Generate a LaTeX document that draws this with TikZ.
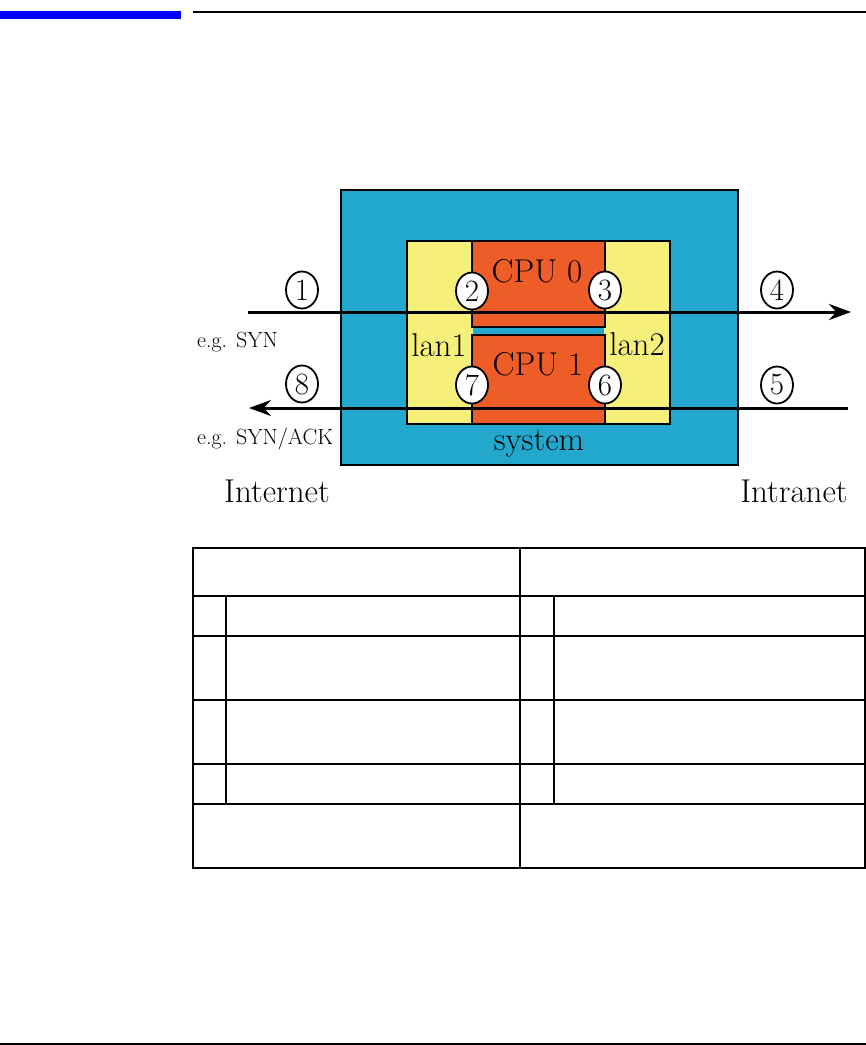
\documentclass[tikz,border=0pt]{standalone}
\usepackage{fontspec}
\usetikzlibrary{arrows.meta,shapes.geometric}
\definecolor{sysblue}{RGB}{34,168,204}
\definecolor{lanyellow}{RGB}{246,240,122}
\definecolor{cpuorange}{RGB}{238,92,40}
\definecolor{barblue}{RGB}{0,0,255}
\tikzset{
  box/.style={draw=black,line width=1.6pt},
  lbl/.style={inner sep=0pt,anchor=base,font=\fontsize{33}{34}\selectfont},
  small/.style={inner sep=0pt,anchor=base west,font=\fontsize{22}{24}\selectfont},
  num/.style={ellipse,draw=black,line width=1.8pt,fill=white,minimum width=32pt,minimum height=37pt,inner sep=0pt,font=\fontsize{31}{32}\selectfont},
  flow/.style={line width=3pt,-{Stealth[length=22pt,width=16pt]}},
  grid/.style={line width=1.3pt}
}
\begin{document}
\begin{tikzpicture}[x=1pt,y=-1pt]
\useasboundingbox (0,0) rectangle (866,1045);
% header and footer rules
\fill[barblue] (0,11) rectangle (181,19);
\draw[line width=2.5pt] (193,12) -- (866,12);
\draw[line width=2.2pt] (0,1044) -- (866,1044);
% system box
\draw[box,fill=sysblue] (341,190) rectangle (738,465);
\draw[box,fill=lanyellow] (407,241) rectangle (670,424);
\draw[box,fill=cpuorange] (472,241) rectangle (605,327);
\draw[box,fill=cpuorange] (472,335) rectangle (605,424);
\fill[sysblue] (473,328) rectangle (604,334);
% labels
\node[lbl] (cpu0) at (537,282) {CPU 0};
\node[lbl] (cpu1) at (538,375) {CPU 1};
\node[lbl] (lan1) at (439,356) {lan1};
\node[lbl] (lan2) at (637,355) {lan2};
\node[lbl] (sys) at (539,450) {system};
\node[small] (syn) at (197,347) {e.g. SYN};
\node[small] (synack) at (197,444) {e.g. SYN/ACK};
\node[lbl] (inet) at (277,502) {Internet};
\node[lbl] (intra) at (794,502) {Intranet};
% flows
\coordinate (a1) at (248,312);
\coordinate (a2) at (851,312);
\coordinate (b1) at (848,408);
\coordinate (b2) at (249,408);
\draw[flow] (a1) -- (a2);
\draw[flow] (b1) -- (b2);
% circled numbers
\node[num] (n1) at (302,290) {1};
\node[num] (n2) at (472,291) {2};
\node[num] (n3) at (605,290) {3};
\node[num] (n4) at (777,290) {4};
\node[num] (n5) at (777,385) {5};
\node[num] (n6) at (605,385) {6};
\node[num] (n7) at (472,385) {7};
\node[num] (n8) at (302,384) {8};
% table
\draw[grid] (193,548) rectangle (865,868);
\draw[grid] (520,548) -- (520,868);
\foreach \y in {596,636,700,764,804}
  \draw[grid] (193,\y) -- (865,\y);
\draw[grid] (226,596) -- (226,804);
\draw[grid] (554,596) -- (554,804);
\end{tikzpicture}
\end{document}
